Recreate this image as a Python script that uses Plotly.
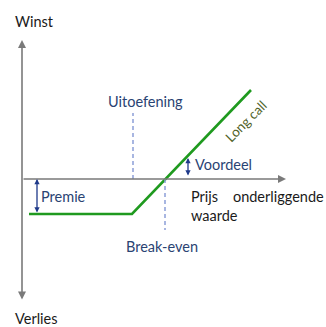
import plotly.graph_objects as go

# Payoff diagram of a long call (conceptual units; origin at axis crossing)
price = [0.7, 11.0, 22.9]          # underlying price points
payoff = [-3.5, -3.5, 8.9]          # profit / loss
strike = 11.1
premium = 3.5
break_even = 14.3
strike_line_top = 6.6
break_even_line_bottom = -5.1
voordeel_top = 2.1
labels = {
    "winst": "Winst",
    "verlies": "Verlies",
    "uitoefening": "Uitoefening",
    "premie": "Premie",
    "break_even": "Break-even",
    "voordeel": "Voordeel",
    "prijs": "Prijs&nbsp;&nbsp;&nbsp;&nbsp;onderliggende<br>waarde",
    "long_call": "Long call",
}

FONT = "Lato"
BLUE = "#2a4373"
AXIS = "#7a7a7a"
NAVY = "#1f3a8a"
DASH = "#8c9ed8"

fig = go.Figure()
fig.add_trace(go.Scatter(x=price, y=payoff, mode="lines",
                         line=dict(color="#1f9a1f", width=2.6),
                         hoverinfo="skip", showlegend=False))

shapes = [
    dict(type="line", x0=strike, x1=strike, y0=0, y1=strike_line_top,
         line=dict(color=DASH, width=1.5, dash="4px,3px")),
    dict(type="line", x0=break_even, x1=break_even, y0=0, y1=break_even_line_bottom,
         line=dict(color=DASH, width=1.5, dash="4px,3px")),
]

ann = []
# axes with arrowheads
ann.append(dict(x=0, y=13.9, ax=0, ay=-12.2, xref="x", yref="y", axref="x", ayref="y",
                showarrow=True, arrowhead=2, arrowside="end+start", arrowsize=1,
                arrowwidth=1.6, arrowcolor=AXIS, text="", standoff=0, startstandoff=0))
ann.append(dict(x=26.4, y=0, ax=0, ay=0, xref="x", yref="y", axref="x", ayref="y",
                showarrow=True, arrowhead=2, arrowsize=1, arrowwidth=1.6,
                arrowcolor=AXIS, text=""))
# premie arrow
ann.append(dict(x=1.5, y=0, ax=1.5, ay=-premium, xref="x", yref="y", axref="x", ayref="y",
                showarrow=True, arrowhead=2, arrowside="end+start", arrowsize=0.8,
                arrowwidth=1.3, arrowcolor=NAVY, text=""))
# voordeel arrow
ann.append(dict(x=16.6, y=voordeel_top, ax=16.6, ay=0.2, xref="x", yref="y", axref="x", ayref="y",
                showarrow=True, arrowhead=2, arrowside="end+start", arrowsize=0.8,
                arrowwidth=1.3, arrowcolor=NAVY, text=""))

def txt(x, y, t, color, xanchor="center", size=14.5, angle=0, align="left"):
    ann.append(dict(x=x, y=y, xref="x", yref="y", text=t, showarrow=False,
                    xanchor=xanchor, yanchor="middle", textangle=angle, align=align,
                    font=dict(family=FONT, size=size, color=color)))

txt(1.2, 15.8, labels["winst"], "#1a1a1a")
txt(1.4, -13.9, labels["verlies"], "#1a1a1a")
txt(12.35, 7.8, labels["uitoefening"], BLUE)
txt(1.7, -1.7, labels["premie"], BLUE, xanchor="left")
txt(14.0, -6.7, labels["break_even"], BLUE)
txt(17.1, 1.5, labels["voordeel"], BLUE, xanchor="left")
txt(16.7, -2.7, labels["prijs"], "#1a1a1a", xanchor="left")
txt(22.4, 5.8, labels["long_call"], "#4f6228", angle=-45, size=13.5)

fig.update_layout(
    width=326, height=327, margin=dict(l=0, r=0, t=0, b=0),
    paper_bgcolor="white", plot_bgcolor="white",
    xaxis=dict(range=[-2.2, 30.4], visible=False, fixedrange=True),
    yaxis=dict(range=[-14.8, 17.9], visible=False, fixedrange=True),
    shapes=shapes, annotations=ann, showlegend=False,
)
fig.write_html("out.html", config={"displayModeBar": False},
               post_script="document.body.style.margin='0';document.body.style.overflow='hidden';")
